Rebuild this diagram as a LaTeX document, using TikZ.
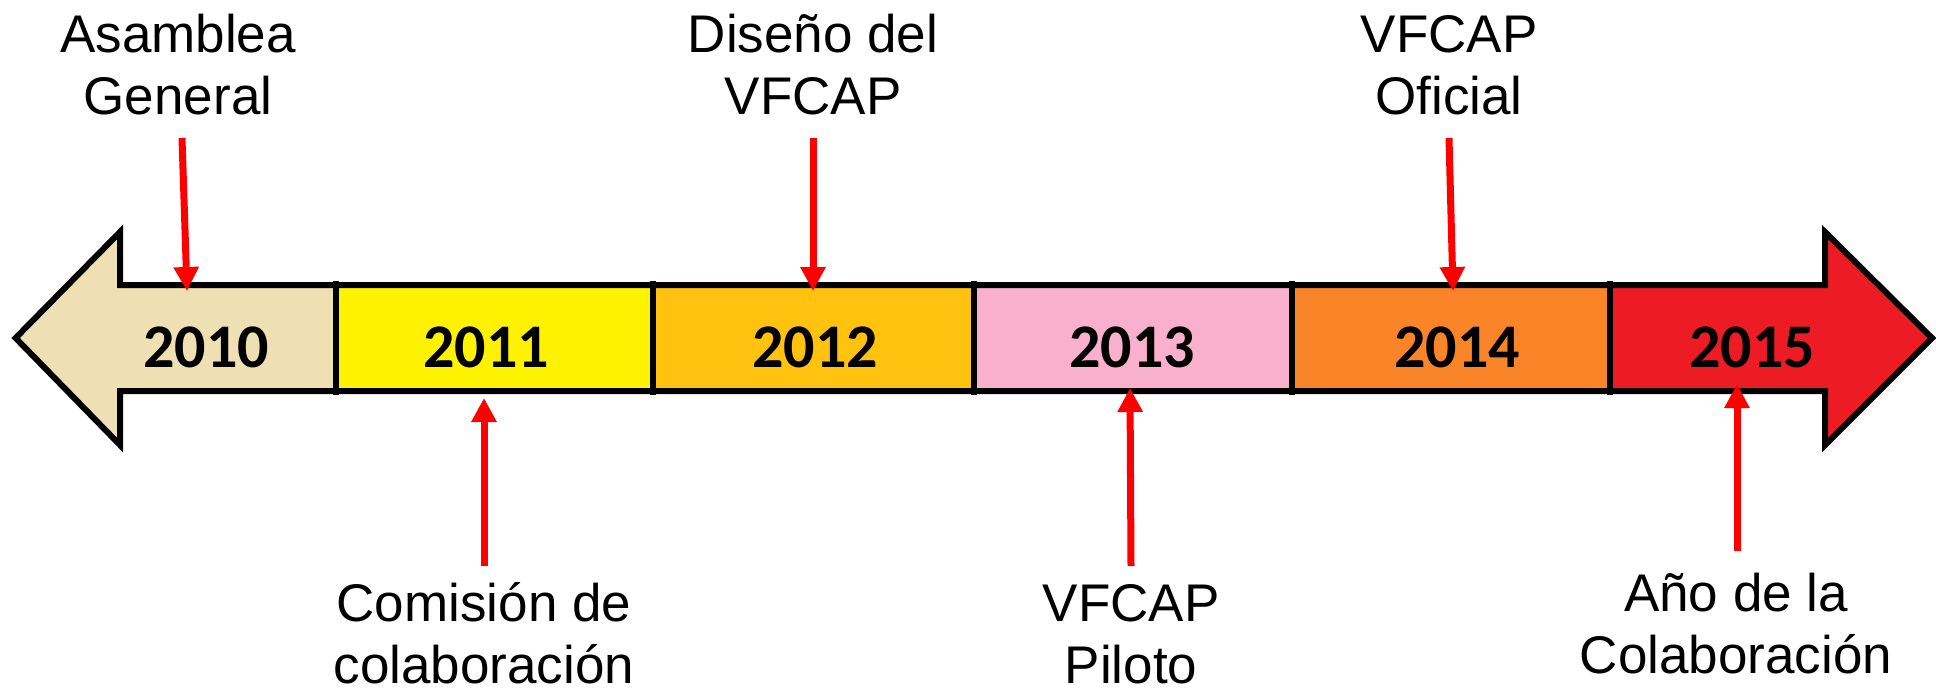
\documentclass[tikz,border=0pt]{standalone}
\usepackage{fontspec}
\setmainfont{Liberation Sans}
\newfontfamily\yearfont{Carlito}
\usetikzlibrary{arrows.meta}
\definecolor{cA}{RGB}{238,224,178}
\definecolor{cB}{RGB}{255,242,0}
\definecolor{cC}{RGB}{255,194,14}
\definecolor{cD}{RGB}{249,176,204}
\definecolor{cE}{RGB}{250,132,40}
\definecolor{cF}{RGB}{237,28,36}
\definecolor{redarrow}{RGB}{255,0,0}
\tikzset{
  yearlabel/.style={font=\yearfont\bfseries\fontsize{62}{70}\selectfont, inner sep=0pt, text=black},
  eventlabel/.style={font=\fontsize{53}{62}\selectfont, align=center, inner sep=0pt, anchor=north},
  eventarrow/.style={draw=redarrow, line width=7pt, -{Triangle[width=24pt,length=24pt]}},
  outline/.style={draw=black, line width=6pt, line join=miter},
  divider/.style={draw=black, line width=6pt}
}
\begin{document}
\begin{tikzpicture}[x=1pt,y=-1pt]
\useasboundingbox (0,0) rectangle (1936,695);
% timeline shape
\def\tlpath{(15.6,338) -- (120,232) -- (120,285) -- (1825,285) -- (1825,232) -- (1932,338) -- (1825,445) -- (1825,391) -- (120,391) -- (120,445) -- cycle}
\begin{scope}
  \clip \tlpath;
  \fill[cA] (0,200) rectangle (336,480);
  \fill[cB] (336,200) rectangle (653,480);
  \fill[cC] (653,200) rectangle (974,480);
  \fill[cD] (974,200) rectangle (1292,480);
  \fill[cE] (1292,200) rectangle (1610,480);
  \fill[cF] (1610,200) rectangle (1936,480);
\end{scope}
\draw[outline] \tlpath;
\foreach \x in {336,653,974,1292,1610} \draw[divider] (\x,281) -- (\x,395);
% years
\node[yearlabel] (y2010) at (206,347) {2010};
\node[yearlabel] (y2011) at (486,347) {2011};
\node[yearlabel] (y2012) at (815,347) {2012};
\node[yearlabel] (y2013) at (1132,347) {2013};
\node[yearlabel] (y2014) at (1457,347) {2014};
\node[yearlabel] (y2015) at (1752,347) {2015};
% event labels
\node[eventlabel] (asamblea) at (178,8.6) {\strut Asamblea\\General};
\node[eventlabel] (diseno) at (813,8.6) {\strut Diseño del\\VFCAP};
\node[eventlabel] (oficial) at (1449,8.6) {\strut VFCAP\\Oficial};
\node[eventlabel] (comision) at (484,578) {\strut Comisión de\\colaboración};
\node[eventlabel] (piloto) at (1131,578) {\strut VFCAP\\Piloto};
\node[eventlabel] (anio) at (1736,568) {\strut Año de la\\Colaboración};
% arrow ends
\coordinate (aS) at (182,138); \coordinate (aT) at (187,291);
\coordinate (dS) at (813,138); \coordinate (dT) at (813,291);
\coordinate (oS) at (1449,138); \coordinate (oT) at (1453,291);
\coordinate (cS) at (484,566); \coordinate (cT) at (484,398);
\coordinate (pS) at (1131,566); \coordinate (pT) at (1130,388);
\coordinate (yS) at (1737,551); \coordinate (yT) at (1737,384);
\draw[eventarrow] (aS) -- (aT);
\draw[eventarrow] (dS) -- (dT);
\draw[eventarrow] (oS) -- (oT);
\draw[eventarrow] (cS) -- (cT);
\draw[eventarrow] (pS) -- (pT);
\draw[eventarrow] (yS) -- (yT);
\end{tikzpicture}
\end{document}
